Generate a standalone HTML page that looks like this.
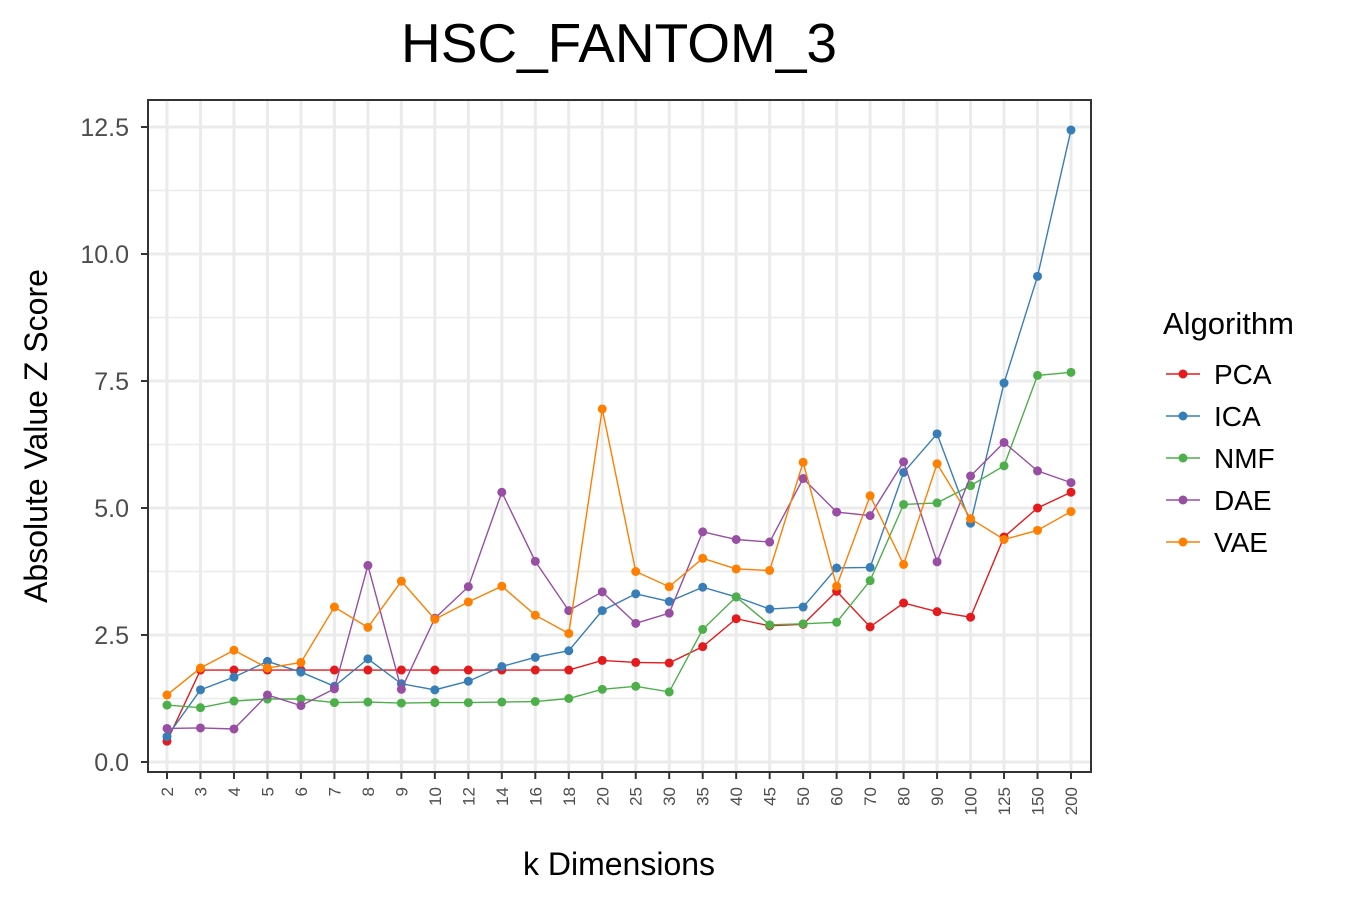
<!DOCTYPE html>
<html><head><meta charset="utf-8"><style>
body{margin:0;background:#fff;font-family:"Liberation Sans",Arial,sans-serif}
</style></head><body>
<svg id="chart" width="1350" height="900" xmlns="http://www.w3.org/2000/svg">
<text x="619" y="62" text-anchor="middle" font-size="55" fill="#000">HSC_FANTOM_3</text>
<rect x="148" y="100" width="943" height="672" fill="#fff"/>
<g id="grid"></g><g id="series"></g>
<rect x="148" y="100" width="943" height="672" fill="none" stroke="#333" stroke-width="2"/>
<g id="axes"></g>
<text x="619" y="875" text-anchor="middle" font-size="32">k Dimensions</text>
<text transform="translate(47,436) rotate(-90)" text-anchor="middle" font-size="32">Absolute Value Z Score</text>
<g id="legend">
<text x="1163" y="334" font-size="31">Algorithm</text>
</g>
</svg>
<script>
const categories=["2","3","4","5","6","7","8","9","10","12","14","16","18","20","25","30","35","40","45","50","60","70","80","90","100","125","150","200"];
const pca=[0.41,1.81,1.81,1.81,1.81,1.81,1.81,1.81,1.81,1.81,1.81,1.81,1.81,2.0,1.96,1.95,2.27,2.82,2.68,2.71,3.36,2.66,3.13,2.96,2.85,4.43,5.0,5.31];
const ica=[0.5,1.42,1.67,1.98,1.77,1.49,2.03,1.54,1.42,1.59,1.88,2.06,2.19,2.98,3.31,3.16,3.44,3.25,3.01,3.05,3.82,3.83,5.70,6.46,4.70,7.46,9.56,12.44];
const nmf=[1.12,1.07,1.20,1.24,1.24,1.17,1.18,1.16,1.17,1.17,1.18,1.19,1.25,1.43,1.49,1.38,2.61,3.25,2.70,2.72,2.75,3.57,5.07,5.10,5.44,5.83,7.61,7.67];
const dae=[0.66,0.67,0.65,1.32,1.11,1.44,3.87,1.43,2.83,3.45,5.31,3.95,2.98,3.35,2.73,2.93,4.53,4.38,4.33,5.58,4.92,4.85,5.91,3.94,5.63,6.29,5.73,5.50];
const vae=[1.32,1.85,2.20,1.85,1.96,3.05,2.65,3.56,2.81,3.15,3.46,2.89,2.53,6.95,3.75,3.45,4.01,3.80,3.77,5.90,3.46,5.24,3.89,5.87,4.79,4.38,4.56,4.93];
const yTicks=[0,2.5,5,7.5,10,12.5];
const yTickLabels=["0.0","2.5","5.0","7.5","10.0","12.5"];
const seriesNames=["PCA","ICA","NMF","DAE","VAE"];
const seriesColors=["#e41a1c","#377eb8","#4daf4a","#984ea3","#ff7f00"];
const seriesData=[pca,ica,nmf,dae,vae];

const NS="http://www.w3.org/2000/svg";
const xs=i=>167+i*(1071-167)/(categories.length-1);
const ys=v=>762-v*50.8;
function mk(tag,attrs,parent){const e=document.createElementNS(NS,tag);for(const k in attrs)e.setAttribute(k,attrs[k]);parent.appendChild(e);return e;}
const grid=document.getElementById('grid'),ser=document.getElementById('series'),axes=document.getElementById('axes'),leg=document.getElementById('legend');
for(let v=1.25;v<13;v+=2.5){const l=mk('line',{x1:148,x2:1091,y1:ys(v),y2:ys(v),stroke:'#ebebeb','stroke-width':1.5},grid);

}
yTicks.forEach((v,i)=>{const l=mk('line',{x1:148,x2:1091,y1:ys(v),y2:ys(v),stroke:'#ebebeb','stroke-width':3},grid);


const t=mk('line',{x1:141,x2:148,y1:ys(v),y2:ys(v),stroke:'#333','stroke-width':2},axes);


const tx=mk('text',{x:129,y:ys(v)+9,'text-anchor':'end','font-size':25,fill:'#4d4d4d'},axes);tx.textContent=yTickLabels[i];

});
categories.forEach((c,i)=>{const x=xs(i);const l=mk('line',{x1:x,x2:x,y1:100,y2:772,stroke:'#ebebeb','stroke-width':3},grid);


const t=mk('line',{x1:x,x2:x,y1:772,y2:779,stroke:'#333','stroke-width':2},axes);


const tx=mk('text',{transform:`translate(${x+6},787) rotate(-90)`,'text-anchor':'end','font-size':17,fill:'#4d4d4d'},axes);tx.textContent=c;

});
seriesData.forEach((d,s)=>{const g=mk('g',{},ser);


const pl=mk('polyline',{points:d.map((v,i)=>xs(i)+','+ys(v)).join(' '),fill:'none',stroke:seriesColors[s],'stroke-width':1.4},g);


d.forEach((v,i)=>{const c=mk('circle',{cx:xs(i),cy:ys(v),r:4.5,fill:seriesColors[s]},g);

});
const ly=374+s*42;
const gl=mk('g',{},leg);


mk('line',{x1:1166,x2:1200,y1:ly,y2:ly,stroke:seriesColors[s],'stroke-width':1.4},gl);
mk('circle',{cx:1183,cy:ly,r:4.5,fill:seriesColors[s]},gl);
const t=mk('text',{x:1214,y:ly+10,'font-size':28},gl);t.textContent=seriesNames[s];});
</script>
</body></html>
